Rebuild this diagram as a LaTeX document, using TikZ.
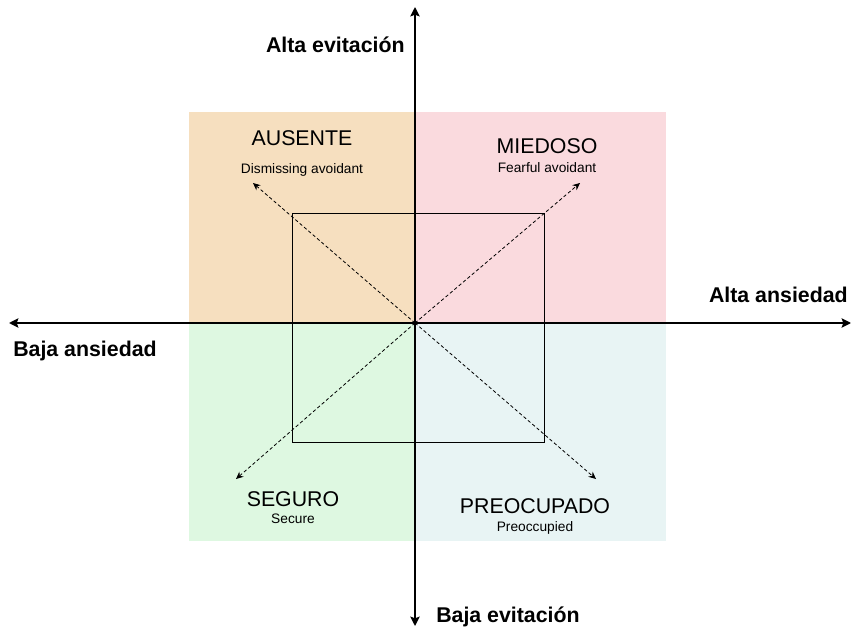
\documentclass[tikz,border=0pt]{standalone}
\usepackage{fontspec}
\setmainfont{Liberation Sans}
\usepackage{tikz}
\usetikzlibrary{calc,positioning,arrows.meta}

\definecolor{ausenteBg}{RGB}{246,223,191}
\definecolor{miedosoBg}{RGB}{250,218,222}
\definecolor{seguroBg}{RGB}{222,248,225}
\definecolor{preocBg}{RGB}{232,244,244}

\begin{document}
\begin{tikzpicture}[x=0.75pt,y=-0.75pt,
		axis/.style={line width=2.2pt,-{Stealth[length=7pt,width=7pt,inset=1.2pt]}},
		diag/.style={line width=0.6pt,dash pattern=on 2.5pt off 1.8pt,-{Stealth[length=5.5pt,width=5pt]}},
		axislabel/.style={font=\fontsize{16}{19}\selectfont\bfseries,inner sep=0pt},
		style/.style={font=\fontsize{16}{19}\selectfont,inner sep=0pt,anchor=base},
		sub/.style={font=\fontsize{10.3}{12}\selectfont,inner sep=0pt,anchor=base}]
		\useasboundingbox (0,0) rectangle (852,631);
		% quadrants
		\fill[ausenteBg] (189,112) rectangle (415,323);
		\fill[miedosoBg] (415,112) rectangle (666,323);
		\fill[seguroBg]  (189,323) rectangle (415,541);
		\fill[preocBg]   (415,323) rectangle (666,541);
		\draw[line width=0.75pt] (292,213) rectangle (544,442);
		% axes
		\coordinate (O) at (415,323);
		\coordinate (W) at (9,323);
		\coordinate (E) at (851,323);
		\coordinate (N) at (415,7);
		\coordinate (S) at (415,626);
		\draw[axis] (O) -- (W);
		\draw[axis] (O) -- (E);
		\draw[axis] (O) -- (N);
		\draw[axis] (O) -- (S);
		\node (altaEv)  [axislabel,anchor=base east] at (405,53)  {Alta evitación};
		\node (bajaEv)  [axislabel,anchor=base west] at (436,622) {Baja evitación};
		\node (bajaAns) [axislabel,anchor=base west] at (13,356)  {Baja ansiedad};
		\node (altaAns) [axislabel,anchor=base east] at (848,302) {Alta ansiedad};
		% styles
		\node (aus)    [style] at (302,146) {AUSENTE};
		\node (ausSub) [sub]   at (302,173) {Dismissing avoidant};
		\node (mie)    [style] at (547,154) {MIEDOSO};
		\node (mieSub) [sub]   at (547,172) {Fearful avoidant};
		\node (seg)    [style] at (293,506) {SEGURO};
		\node (segSub) [sub]   at (293,523) {Secure};
		\node (pre)    [style] at (535,513) {PREOCUPADO};
		\node (preSub) [sub]   at (535,531) {Preoccupied};
		\coordinate (tipAus) at (253,183);
		\coordinate (tipMie) at (580,183);
		\coordinate (tipSeg) at (236,479);
		\coordinate (tipPre) at (596,479);
		\draw[diag] (O) -- (tipAus);
		\draw[diag] (O) -- (tipMie);
		\draw[diag] (O) -- (tipSeg);
		\draw[diag] (O) -- (tipPre);
	\end{tikzpicture}
\end{document}
